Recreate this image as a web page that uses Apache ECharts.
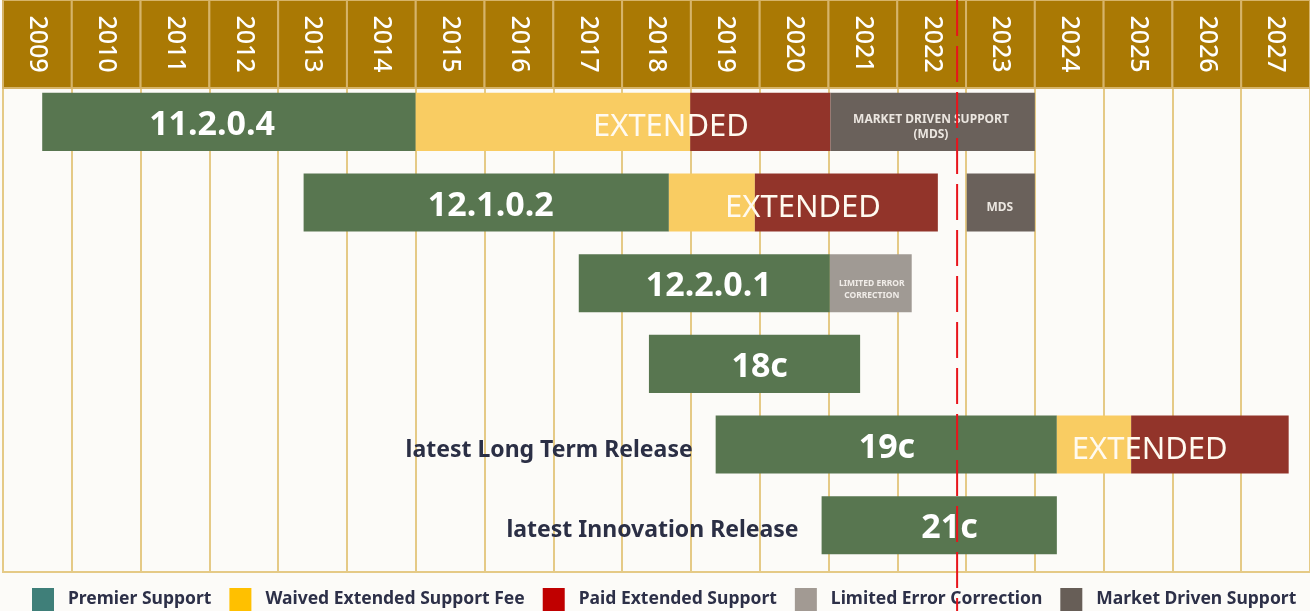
<!DOCTYPE html>
<html>
<head>
<meta charset="utf-8">
<script src="https://cdn.jsdelivr.net/npm/echarts@6/dist/echarts.min.js"></script>
<style>
html, body { margin: 0; padding: 0; background: #fcfbf8; }
#chart { width: 1310px; height: 611px; }
</style>
</head>
<body>
<div id="chart"></div>
<script>
// 年份表头
const years = [2009, 2010, 2011, 2012, 2013, 2014, 2015, 2016, 2017, 2018,
  2019, 2020, 2021, 2022, 2023, 2024, 2025, 2026, 2027]

// 版本（每行一个）
const releases = ['11.2.0.4', '12.1.0.2', '12.2.0.1', '18c', '19c', '21c']

// 各支持阶段: [行号, 开始年份, 结束年份]
const premierSupport = [[0, 2009.57, 2015.0], [1, 2013.37, 2018.68], [2, 2017.37, 2021.02],
  [3, 2018.39, 2021.46], [4, 2019.36, 2024.32], [5, 2020.9, 2024.32]]
const waivedExtended = [[0, 2015.0, 2018.99], [1, 2018.68, 2019.93], [4, 2024.32, 2025.4]]
const paidExtended = [[0, 2018.99, 2021.03], [1, 2019.93, 2022.59], [4, 2025.4, 2027.69]]
const limitedErrorCorrection = [[2, 2021.02, 2022.21]]
const marketDriven = [[0, 2021.03, 2024.0], [1, 2023.01, 2024.0]]

// 条内文字: [行号, 中心年份, 文字, 类型]
const barLabels = [
  [0, 2012.04, '11.2.0.4', 'version'],
  [0, 2018.71, 'EXTENDED', 'extended'],
  [0, 2022.49, 'MARKET DRIVEN SUPPORT\n(MDS)', 'small'],
  [1, 2016.09, '12.1.0.2', 'version'],
  [1, 2020.63, 'EXTENDED', 'extended'],
  [1, 2023.49, 'MDS', 'small'],
  [2, 2019.26, '12.2.0.1', 'version'],
  [2, 2021.63, 'LIMITED ERROR\nCORRECTION', 'tiny'],
  [3, 2020.0, '18c', 'version'],
  [4, 2021.85, '19c', 'version'],
  [4, 2025.67, 'EXTENDED', 'extended'],
  [5, 2022.76, '21c', 'version']
]

// 行左侧说明
const rowNotes = [[4, 'latest Long Term Release'], [5, 'latest Innovation Release']]

// 今天
const todayMark = 2022.87

const legendNames = ['Premier Support', 'Waived Extended Support Fee', 'Paid Extended Support',
  'Limited Error Correction', 'Market Driven Support']
const legendColors = ['#3f7f79', '#ffc000', '#c00000', '#a29a93', '#675e57']
const barColors = ['#587650', '#f9cc62', '#92342a', '#a09a94', '#6a615b']

const labelFonts = {
  version: { font: 'bold 34px "Noto Sans"', fill: '#ffffff', lineHeight: 40, dy: -3 },
  extended: { font: 'normal 31px "Noto Sans"', fill: '#fffaf0', lineHeight: 36, dy: -1 },
  small: { font: 'bold 12px "Noto Sans"', fill: '#ebe6e0', lineHeight: 15, dy: -1 },
  tiny: { font: 'bold 8.5px "Noto Sans"', fill: '#f0ece8', lineHeight: 12, dy: 0 }
}

const xMin = years[0]
const xMax = years[years.length - 1] + 1

const chart = echarts.init(document.getElementById('chart'))

// 条形段
const renderSegment = (params, api) => {
  const row = api.value(0)
  const start = api.coord([api.value(1), row])
  const end = api.coord([api.value(2), row])
  const band = api.size([0, 1])[1]
  const top = start[1] - band / 2 + band * 0.06
  return {
    type: 'rect',
    shape: { x: start[0], y: top, width: end[0] - start[0], height: band * 0.72 },
    style: { fill: api.visual('color') }
  }
}

const segmentSeries = [premierSupport, waivedExtended, paidExtended, limitedErrorCorrection, marketDriven]
  .map((data, i) => ({
    name: legendNames[i],
    type: 'custom',
    xAxisIndex: 0,
    yAxisIndex: 0,
    itemStyle: { color: barColors[i] },
    encode: { x: [1, 2], y: 0 },
    renderItem: renderSegment,
    data: data
  }))

chart.setOption({
  backgroundColor: '#fcfbf8',
  animation: false,
  grid: [
    { left: 3, right: 0, top: 88, bottom: 39, show: true, backgroundColor: '#fcfbf8', borderColor: '#e5ca86', borderWidth: 2 },
    { left: 3, right: 0, top: 0, height: 88 },
    { left: 3, right: 0, top: 0, bottom: 0 }
  ],
  xAxis: [
    {
      gridIndex: 0, type: 'value', min: xMin, max: xMax, interval: 1,
      axisLine: { show: false }, axisTick: { show: false }, axisLabel: { show: false },
      splitLine: { show: true, lineStyle: { color: '#e5ca86', width: 2 } }
    },
    { gridIndex: 1, type: 'value', min: xMin, max: xMax, show: false },
    { gridIndex: 2, type: 'value', min: xMin, max: xMax, show: false }
  ],
  yAxis: [
    {
      gridIndex: 0, type: 'category', data: releases, inverse: true,
      axisLine: { show: false }, axisTick: { show: false }, axisLabel: { show: false },
      splitLine: { show: false }
    },
    { gridIndex: 1, type: 'value', min: 0, max: 1, show: false },
    { gridIndex: 2, type: 'value', min: 0, max: 1, show: false }
  ],
  legend: {
    left: 32, top: 588, padding: 0, itemWidth: 22, itemHeight: 23, itemGap: 18, icon: 'rect',
    selectedMode: false,
    textStyle: { color: '#2d3048', fontSize: 17.5, fontWeight: 'bold', fontFamily: 'Noto Sans', padding: [0, 0, 0, 9] },
    data: legendNames.map((n, i) => ({ name: n, itemStyle: { color: legendColors[i] } }))
  },
  series: [
    ...segmentSeries,
    {
      // 条内文字
      type: 'custom',
      xAxisIndex: 0,
      yAxisIndex: 0,
      z: 5,
      renderItem: (params, api) => {
        const item = barLabels[params.dataIndex]
        const p = api.coord([item[1], item[0]])
        const f = labelFonts[item[3]]
        return {
          type: 'text',
          x: p[0],
          y: p[1] + f.dy,
          style: { text: item[2], font: f.font, fill: f.fill, lineHeight: f.lineHeight, align: 'center', verticalAlign: 'middle' }
        }
      },
      data: barLabels.map(l => [l[1], l[0]])
    },
    {
      // 行说明
      type: 'custom',
      xAxisIndex: 0,
      yAxisIndex: 0,
      z: 5,
      renderItem: (params, api) => {
        const note = rowNotes[params.dataIndex]
        const seg = premierSupport.find(s => s[0] === note[0])
        const p = api.coord([seg[1], note[0]])
        return {
          type: 'text',
          x: p[0] - 23,
          y: p[1] - 1,
          style: { text: note[1], font: 'bold 23px "Noto Sans"', fill: '#2b2f45', align: 'right', verticalAlign: 'middle' }
        }
      },
      data: rowNotes.map(n => [n[0]])
    },
    {
      // 年份表头（顺时针旋转，从上往下读）
      type: 'custom',
      xAxisIndex: 1,
      yAxisIndex: 1,
      renderItem: (params, api) => {
        const y = api.value(0)
        const a = api.coord([y, 1])
        const b = api.coord([y + 1, 0])
        return {
          type: 'group',
          children: [
            {
              type: 'rect',
              shape: { x: a[0], y: a[1], width: b[0] - a[0], height: b[1] - a[1] },
              style: { fill: '#aa7904', stroke: '#d6b46a', lineWidth: 2 }
            },
            {
              type: 'text',
              x: (a[0] + b[0]) / 2,
              y: (a[1] + b[1]) / 2,
              rotation: -Math.PI / 2,
              style: { text: String(y), font: '500 25px "Noto Sans"', fill: '#ffffff', align: 'center', verticalAlign: 'middle' }
            }
          ]
        }
      },
      data: years.map(y => [y])
    },
    {
      // 今日红色虚线
      type: 'custom',
      xAxisIndex: 2,
      yAxisIndex: 2,
      z: 20,
      renderItem: (params, api) => {
        const a = api.coord([api.value(0), 1])
        const b = api.coord([api.value(0), 0])
        return {
          type: 'line',
          shape: { x1: a[0], y1: a[1], x2: b[0], y2: b[1] },
          style: { stroke: '#e8141b', lineWidth: 2, lineDash: [36, 10] }
        }
      },
      data: [[todayMark]]
    }
  ]
})
</script>
</body>
</html>
